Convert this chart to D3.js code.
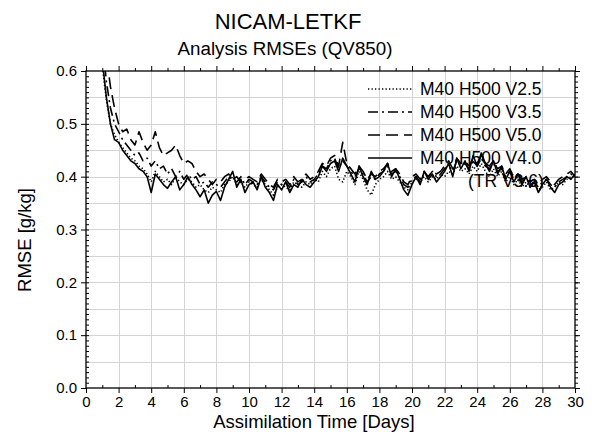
<!DOCTYPE html>
<html>
<head>
<meta charset="utf-8">
<script src="https://cdn.jsdelivr.net/npm/d3@7/dist/d3.min.js"></script>
<style>
  html, body { margin: 0; padding: 0; background: #fff; }
  svg { display: block; font-family: "Liberation Sans", Arial, sans-serif; }
</style>
</head>
<body>
<svg id="chart" width="592" height="443"></svg>
<script>
// Analysis RMSE of QV850 (g/kg), sampled every 6 hours from day 0.25 to day 30
const stepDays = 0.25;

const rmseV25 = [
  1.05, 0.86, 0.72, 0.61,  0.545, 0.50, 0.48, 0.465,  0.455, 0.445, 0.435, 0.43,
  0.42, 0.415, 0.405, 0.39,  0.41, 0.40, 0.39, 0.395,  0.385, 0.40, 0.39, 0.385,
  0.395, 0.39, 0.38, 0.385,  0.375, 0.37, 0.38, 0.375,  0.37, 0.385, 0.39, 0.40,
  0.385, 0.39, 0.38, 0.39,  0.385, 0.38, 0.395, 0.385,  0.375, 0.365, 0.38, 0.385,
  0.38, 0.375, 0.39, 0.385,  0.38, 0.39, 0.385, 0.395,  0.39, 0.41, 0.40, 0.415,
  0.42, 0.395, 0.39, 0.41,  0.40, 0.385, 0.41, 0.395,  0.375, 0.365, 0.385, 0.395,
  0.40, 0.41, 0.395, 0.40,  0.39, 0.38, 0.375, 0.39,  0.395, 0.39, 0.40, 0.39,
  0.40, 0.395, 0.405, 0.40,  0.41, 0.405, 0.42, 0.41,  0.415, 0.405, 0.42, 0.41,
  0.425, 0.41, 0.40, 0.415,  0.40, 0.41, 0.39, 0.40,  0.385, 0.395, 0.38, 0.39,
  0.38, 0.385, 0.375, 0.38,  0.39, 0.375, 0.38, 0.39,  0.385, 0.395, 0.40, 0.40
];

const rmseV35 = [
  1.10, 0.92, 0.78, 0.66,  0.58, 0.53, 0.50, 0.485,  0.47, 0.46, 0.45, 0.44,
  0.445, 0.43, 0.435, 0.42,  0.43, 0.415, 0.42, 0.405,  0.415, 0.40, 0.41, 0.395,
  0.405, 0.395, 0.40, 0.385,  0.39, 0.38, 0.39, 0.385,  0.38, 0.39, 0.40, 0.395,
  0.39, 0.40, 0.385, 0.395,  0.39, 0.385, 0.40, 0.39,  0.38, 0.375, 0.39, 0.385,
  0.39, 0.38, 0.395, 0.385,  0.39, 0.40, 0.39, 0.395,  0.405, 0.42, 0.415, 0.43,
  0.435, 0.415, 0.43, 0.42,  0.41, 0.40, 0.415, 0.405,  0.39, 0.40, 0.395, 0.405,
  0.41, 0.42, 0.405, 0.41,  0.40, 0.385, 0.38, 0.395,  0.40, 0.39, 0.405, 0.40,
  0.41, 0.40, 0.405, 0.415,  0.42, 0.41, 0.43, 0.42,  0.425, 0.415, 0.43, 0.42,
  0.435, 0.42, 0.415, 0.425,  0.41, 0.415, 0.40, 0.41,  0.395, 0.40, 0.39, 0.40,
  0.385, 0.39, 0.38, 0.39,  0.395, 0.385, 0.38, 0.39,  0.395, 0.40, 0.405, 0.40
];

const rmseV50 = [
  1.20, 1.00, 0.85, 0.72,  0.63, 0.57, 0.53, 0.50,  0.485, 0.49, 0.47, 0.46,
  0.485, 0.465, 0.45, 0.46,  0.485, 0.455, 0.44, 0.445,  0.45, 0.46, 0.44, 0.425,
  0.43, 0.425, 0.41, 0.40,  0.405, 0.395, 0.385, 0.395,  0.39, 0.40, 0.405, 0.395,
  0.40, 0.39, 0.395, 0.40,  0.395, 0.39, 0.405, 0.395,  0.385, 0.38, 0.395, 0.39,
  0.395, 0.385, 0.40, 0.39,  0.395, 0.405, 0.395, 0.40,  0.41, 0.425, 0.42, 0.435,
  0.44, 0.42, 0.465, 0.425,  0.415, 0.405, 0.42, 0.41,  0.395, 0.405, 0.40, 0.41,
  0.415, 0.425, 0.41, 0.415,  0.405, 0.39, 0.385, 0.40,  0.405, 0.395, 0.41, 0.40,
  0.41, 0.405, 0.41, 0.42,  0.43, 0.415, 0.435, 0.425,  0.43, 0.42, 0.435, 0.425,
  0.44, 0.425, 0.42, 0.43,  0.415, 0.42, 0.405, 0.415,  0.40, 0.405, 0.395, 0.40,
  0.39, 0.395, 0.385, 0.395,  0.40, 0.39, 0.385, 0.395,  0.40, 0.405, 0.41, 0.40
];

const rmseV40 = [
  1.10, 0.90, 0.74, 0.62,  0.55, 0.50, 0.47, 0.465,  0.45, 0.44, 0.43, 0.425,
  0.415, 0.41, 0.40, 0.37,  0.405, 0.395, 0.385, 0.378,  0.39, 0.40, 0.375, 0.385,
  0.40, 0.385, 0.375, 0.362,  0.375, 0.35, 0.365, 0.372,  0.355, 0.38, 0.395, 0.41,
  0.38, 0.395, 0.37, 0.385,  0.39, 0.375, 0.40, 0.38,  0.37, 0.355, 0.385, 0.375,
  0.39, 0.37, 0.385, 0.38,  0.395, 0.385, 0.38, 0.39,  0.40, 0.42, 0.41, 0.425,
  0.43, 0.41, 0.435, 0.42,  0.405, 0.39, 0.42, 0.40,  0.385, 0.41, 0.395, 0.40,
  0.41, 0.425, 0.40, 0.415,  0.395, 0.375, 0.365, 0.385,  0.40, 0.385, 0.41, 0.395,
  0.405, 0.39, 0.40, 0.41,  0.425, 0.40, 0.435, 0.415,  0.43, 0.41, 0.44, 0.42,
  0.445, 0.425, 0.41, 0.43,  0.405, 0.42, 0.395, 0.41,  0.39, 0.405, 0.385, 0.40,
  0.38, 0.39, 0.37, 0.385,  0.395, 0.38, 0.37, 0.385,  0.39, 0.40, 0.395, 0.405
];

const seriesNames = ["M40 H500 V2.5", "M40 H500 V3.5", "M40 H500 V5.0", "M40 H500 V4.0"];
const seriesValues = [rmseV25, rmseV35, rmseV50, rmseV40];
const seriesDash = ["1.3,2.2", "10,4,2,4", "12,6", null];
const legendNote = "(TR V3.6)";

const xTickValues = [0, 2, 4, 6, 8, 10, 12, 14, 16, 18, 20, 22, 24, 26, 28, 30];
const yTickValues = [0.0, 0.1, 0.2, 0.3, 0.4, 0.5, 0.6];

const titleText = "NICAM-LETKF";
const subtitleText = "Analysis RMSEs (QV850)";
const xLabelText = "Assimilation Time [Days]";
const yLabelText = "RMSE [g/kg]";

// ---- layout ----
const plot = { left: 86, right: 575, top: 71, bottom: 388 };
const svg = d3.select("#chart");

const x = d3.scaleLinear().domain([0, 30]).range([plot.left, plot.right]);
const y = d3.scaleLinear().domain([0, 0.6]).range([plot.bottom, plot.top]);

// titles
svg.append("text").attr("x", 288).attr("y", 29).attr("text-anchor", "middle")
  .attr("font-size", 22).text(titleText);
svg.append("text").attr("x", 285).attr("y", 55).attr("text-anchor", "middle")
  .attr("font-size", 18.8).text(subtitleText);

// grid
const grid = svg.append("g").attr("stroke", "#d4d4d4").attr("stroke-width", 1);
grid.selectAll("line.gx").data(d3.range(2, 30, 2)).join("line")
  .attr("x1", d => Math.round(x(d)) + 0.5).attr("x2", d => Math.round(x(d)) + 0.5)
  .attr("y1", plot.top).attr("y2", plot.bottom);
grid.selectAll("line.gy").data(d3.range(1, 12).map(i => i * 0.05)).join("line")
  .attr("y1", d => Math.round(y(d)) + 0.5).attr("y2", d => Math.round(y(d)) + 0.5)
  .attr("x1", plot.left).attr("x2", plot.right);

// clip region for the curves
svg.append("clipPath").attr("id", "plotClip").append("rect")
  .attr("x", plot.left).attr("y", plot.top)
  .attr("width", plot.right - plot.left).attr("height", plot.bottom - plot.top);

const line = d3.line()
  .x((d, i) => x((i + 1) * stepDays))
  .y(d => y(d));

const curves = svg.append("g").attr("clip-path", "url(#plotClip)");
seriesValues.forEach((vals, k) => {
  curves.append("path")
    .datum(vals)
    .attr("fill", "none")
    .attr("stroke", "#000")
    .attr("stroke-width", 1.6)
    .attr("stroke-linejoin", "round")
    .attr("stroke-dasharray", seriesDash[k])
    .attr("d", line);
});

// axes: major ticks outside, minor ticks at 0.01 / 1 day
const axisStyle = g => {
  g.select(".domain").remove();
  g.selectAll(".tick line").attr("stroke", "#000");
  g.selectAll(".tick text").attr("font-size", 15).attr("fill", "#000")
    .attr("font-family", "Liberation Sans, Arial, sans-serif");
};

svg.append("g").attr("transform", `translate(0,${plot.bottom})`)
  .call(d3.axisBottom(x).tickValues(xTickValues).tickFormat(d3.format("d")).tickSize(5).tickPadding(3))
  .call(axisStyle);
svg.append("g").attr("transform", `translate(0,${plot.bottom})`)
  .call(d3.axisTop(x).tickValues(d3.range(1, 30, 2)).tickSize(3).tickFormat(""))
  .call(axisStyle);

svg.append("g").attr("transform", `translate(0,${plot.top})`)
  .call(d3.axisTop(x).tickValues(xTickValues).tickSize(5).tickFormat(""))
  .call(axisStyle);
svg.append("g").attr("transform", `translate(0,${plot.top})`)
  .call(d3.axisTop(x).tickValues(d3.range(1, 30, 2)).tickSize(3).tickFormat(""))
  .call(axisStyle);

svg.append("g").attr("transform", `translate(${plot.left},0)`)
  .call(d3.axisLeft(y).tickValues(yTickValues).tickFormat(d3.format(".1f")).tickSize(5).tickPadding(4))
  .call(axisStyle);
svg.append("g").attr("transform", `translate(${plot.left},0)`)
  .call(d3.axisRight(y).tickValues(d3.range(1, 60).map(i => i / 100)).tickSize(3).tickFormat(""))
  .call(axisStyle);

svg.append("g").attr("transform", `translate(${plot.right},0)`)
  .call(d3.axisRight(y).tickValues(yTickValues).tickSize(5).tickFormat(""))
  .call(axisStyle);
svg.append("g").attr("transform", `translate(${plot.right},0)`)
  .call(d3.axisRight(y).tickValues(d3.range(1, 60).map(i => i / 100)).tickSize(3).tickFormat(""))
  .call(axisStyle);

// frame
svg.append("rect")
  .attr("x", plot.left).attr("y", plot.top)
  .attr("width", plot.right - plot.left).attr("height", plot.bottom - plot.top)
  .attr("fill", "none").attr("stroke", "#000").attr("stroke-width", 1.3);

// axis titles
svg.append("text").attr("x", 314).attr("y", 428).attr("text-anchor", "middle")
  .attr("font-size", 18.5).text(xLabelText);
svg.append("text").attr("transform", "translate(31,240) rotate(-90)")
  .attr("text-anchor", "middle").attr("font-size", 18.5).text(yLabelText);

// legend
const legend = svg.append("g");
seriesNames.forEach((name, k) => {
  const ly = 89 + k * 23;
  legend.append("line")
    .attr("x1", 368).attr("x2", 412).attr("y1", ly).attr("y2", ly)
    .attr("stroke", "#000").attr("stroke-width", 1.6)
    .attr("stroke-dasharray", seriesDash[k]);
  legend.append("text").attr("x", 420).attr("y", ly + 6)
    .attr("font-size", 17.5).text(name);
});
legend.append("text").attr("x", 468).attr("y", 89 + 4 * 23 + 6)
  .attr("font-size", 17.5).text(legendNote);
</script>
</body>
</html>
